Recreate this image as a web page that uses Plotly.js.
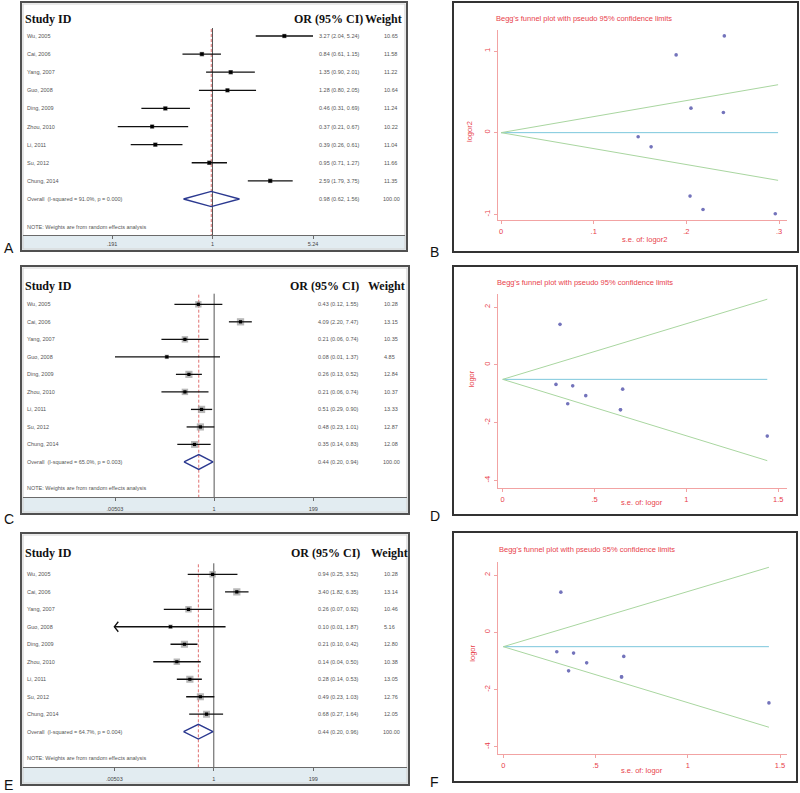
<!DOCTYPE html>
<html><head><meta charset="utf-8">
<script src="https://cdn.plot.ly/plotly-3.0.1.min.js"></script>
<style>html,body{margin:0;padding:0;background:#fff}#chart{width:800px;height:793px}</style>
</head><body><div id="chart"></div>
<script>
// ---------------- DATA ----------------
const studies = ["Wu, 2005","Cai, 2006","Yang, 2007","Guo, 2008","Ding, 2009","Zhou, 2010","Li, 2011","Su, 2012","Chung, 2014"];

// Panel A (forest)
const orA = [3.27, 0.84, 1.35, 1.28, 0.46, 0.37, 0.39, 0.95, 2.59];
const loA = [2.04, 0.61, 0.90, 0.80, 0.31, 0.21, 0.26, 0.71, 1.79];
const hiA = [5.24, 1.15, 2.01, 2.05, 0.69, 0.67, 0.61, 1.27, 3.75];
const wA  = ["10.65","11.58","11.22","10.64","11.24","10.22","11.04","11.66","11.35"];
const overallA = [0.98, 0.62, 1.56];
const hetA = "Overall  (I-squared = 91.0%, p = 0.000)";
const ticksA = [0.191, 1, 5.24];
const tickTextA = [".191", "1", "5.24"];

// Panel C (forest)
const orC = [0.43, 4.09, 0.21, 0.08, 0.26, 0.21, 0.51, 0.48, 0.35];
const loC = [0.12, 2.20, 0.06, 0.00503, 0.13, 0.06, 0.29, 0.23, 0.14];
const hiC = [1.55, 7.47, 0.74, 1.37, 0.52, 0.74, 0.90, 1.01, 0.83];
const wC  = ["10.28","13.15","10.35","4.85","12.84","10.37","13.33","12.87","12.08"];
const overallC = [0.44, 0.20, 0.94];
const hetC = "Overall  (I-squared = 65.0%, p = 0.003)";
const ticksC = [0.00503, 1, 199];
const tickTextC = [".00503", "1", "199"];

// Panel E (forest)
const orE = [0.94, 3.40, 0.26, 0.10, 0.21, 0.14, 0.28, 0.49, 0.68];
const loE = [0.25, 1.82, 0.07, 0.00502, 0.10, 0.04, 0.14, 0.23, 0.27];
const hiE = [3.52, 6.35, 0.92, 1.87, 0.42, 0.50, 0.53, 1.03, 1.64];
const wE  = ["10.28","13.14","10.46","5.16","12.80","10.38","13.05","12.76","12.05"];
const overallE = [0.44, 0.20, 0.96];
const hetE = "Overall  (I-squared = 64.7%, p = 0.004)";
const ticksE = [0.00503, 1, 199];
const tickTextE = [".00503", "1", "199"];

// Panel B (funnel)
const seB    = [0.241, 0.162, 0.205, 0.240, 0.204, 0.296, 0.218, 0.148, 0.189];
const logorB = [1.185, -0.174, 0.300, 0.247, -0.777, -0.994, -0.942, -0.051, 0.952];
const limSeB = [0, 0.299];
const upperB = [0, 0.587];
const lowerB = [0, -0.584];
const centreB = [0, 0];
const xTicksB = [0, 0.1, 0.2, 0.3], xTickTextB = ["0", ".1", ".2", ".3"];
const yTicksB = [-1, 0, 1], yTickTextB = ["-1", "0", "1"];

// Panel D (funnel)
const seD    = [0.653, 0.312, 0.641, 1.440, 0.354, 0.641, 0.290, 0.381, 0.452];
const logorD = [-0.844, 1.40, -1.56, -2.47, -1.35, -1.56, -0.68, -0.73, -1.07];
const limSeD = [0, 1.44];
const upperD = [-0.505, 2.27];
const lowerD = [-0.505, -3.32];
const centreD = [-0.505, -0.505];
const xTicksD = [0, 0.5, 1, 1.5], xTickTextD = ["0", ".5", "1", "1.5"];
const yTicksD = [-4, -2, 0, 2], yTickTextD = ["-4", "-2", "0", "2"];

// Panel F (funnel, as drawn in the figure)
const seF    = [0.653, 0.312, 0.641, 1.440, 0.354, 0.641, 0.290, 0.381, 0.452];
const logorF = [-0.844, 1.40, -1.56, -2.47, -1.35, -1.56, -0.68, -0.73, -1.07];
const limSeF = [0, 1.44];
const upperF = [-0.505, 2.27];
const lowerF = [-0.505, -3.32];
const centreF = [-0.505, -0.505];
const xTicksF = [0, 0.5, 1, 1.5], xTickTextF = ["0", ".5", "1", "1.5"];
const yTicksF = [-4, -2, 0, 2], yTickTextF = ["-4", "-2", "0", "2"];

// ---------------- RENDERING ----------------
const W = 800, H = 793;
const P = px => px / W;
const Q = py => 1 - py / H;
const SANS = 'Liberation Sans, Arial, sans-serif';
const SERIF = 'Liberation Serif, Times New Roman, serif';
const RED = '#e8414c', PINK = '#f2a3a3';
const FS = 5.5;

const traces = [], annotations = [], shapes = [];
const layout = {width: W, height: H, margin: {l:0, r:0, t:0, b:0, pad:0},
  paper_bgcolor: '#ffffff', plot_bgcolor: 'rgba(0,0,0,0)', showlegend: false,
  annotations, shapes};

function logRange(p1, v1, p2, v2, d0, d1) {
  const k = (Math.log10(v2) - Math.log10(v1)) / (p2 - p1);
  return [Math.log10(v1) + (d0 - p1) * k, Math.log10(v1) + (d1 - p1) * k];
}
function linRange(p1, v1, p2, v2, d0, d1) {
  const k = (v2 - v1) / (p2 - p1);
  return [v1 + (d0 - p1) * k, v1 + (d1 - p1) * k];
}
function txt(text, x, y, size, opt) {
  annotations.push(Object.assign({xref:'paper', yref:'paper', x:P(x), y:Q(y), text,
    showarrow:false, xanchor:'left', yanchor:'middle', borderpad:0,
    font:{family:SANS, size, color:'#444'}}, opt || {}));
}
const f2 = v => v.toFixed(2);

function drawForest(n, cfg, d) {
  const xa = 'x' + n, ya = 'y' + n;
  const rowOf = py => (py - cfg.row0) / cfg.dy;
  const yBottom = rowOf(cfg.axisY), yTop = rowOf(cfg.box[1] + 2);
  const t0 = d.ticks[0], t1 = d.ticks[d.ticks.length - 1];
  const decPerPx = (Math.log10(t1) - Math.log10(t0)) / (cfg.tickPx[1] - cfg.tickPx[0]);
  layout['xaxis' + n] = {domain:[P(cfg.dom[0]), P(cfg.dom[1])], type:'log',
    range: logRange(cfg.tickPx[0], t0, cfg.tickPx[1], t1, cfg.dom[0], cfg.dom[1]),
    anchor: ya, showline:true, linecolor:'#6a6a6a', linewidth:1, ticks:'outside', ticklen:3,
    tickcolor:'#6a6a6a', tickwidth:1, tickvals:d.ticks, ticktext:d.tickText,
    tickfont:{family:SANS, size:FS, color:'#444'}, ticklabelstandoff:cfg.standoff,
    showgrid:false, zeroline:false, fixedrange:true};
  layout['yaxis' + n] = {domain:[Q(cfg.axisY), Q(cfg.box[1] + 2)], range:[yBottom, yTop],
    anchor: xa, visible:false, fixedrange:true};

  // strip & frame
  shapes.push({type:'rect', xref:'paper', yref:'paper', x0:P(cfg.box[0]+1), x1:P(cfg.box[2]-1),
    y0:Q(cfg.box[3]-1), y1:Q(cfg.axisY), fillcolor:'#e2ecf1', line:{width:0}, layer:'below'});
  shapes.push({type:'rect', xref:'paper', yref:'paper', x0:P(cfg.box[0]+2), x1:P(cfg.box[2]-2),
    y0:Q(cfg.box[3]-2), y1:Q(cfg.box[1]+2), line:{color:'#d4d4d4', width:1.2}, layer:'below'});
  shapes.push({type:'rect', xref:'paper', yref:'paper', x0:P(cfg.box[0]), x1:P(cfg.box[2]),
    y0:Q(cfg.box[3]), y1:Q(cfg.box[1]), line:{color:'#505050', width:2}, layer:'above'});

  const idx = d.or.map((_, i) => i);
  const nr = d.or.length;
  // reference lines
  traces.push({type:'scatter', mode:'lines', x:[1, 1], y:[rowOf(cfg.vTop), yBottom],
    xaxis:xa, yaxis:ya, line:{color:'#555', width:1}, hoverinfo:'skip'});
  traces.push({type:'scatter', mode:'lines', x:[d.overall[0], d.overall[0]], y:[rowOf(cfg.vTop + 1), yBottom],
    xaxis:xa, yaxis:ya, line:{color:'#e07070', width:1, dash:'3px,2px'}, hoverinfo:'skip'});
  // boxes
  traces.push({type:'scatter', mode:'markers', x:d.or, y:idx, xaxis:xa, yaxis:ya,
    marker:{symbol:'square', size:d.w.map(w => cfg.boxK * Math.sqrt(parseFloat(w))), color:cfg.boxColor, line:{width:0}},
    hoverinfo:'skip'});
  // CI lines (+ open chevron where the CI runs off the scale)
  const cx = [], cy = [];
  idx.forEach(i => {
    cx.push(Math.max(d.lo[i], t0), d.hi[i], null); cy.push(i, i, null);
    if (d.lo[i] < t0) {
      const back = Math.pow(10, 4 * decPerPx);
      const hh = 5 / cfg.dy;
      cx.push(t0 * back, t0, t0 * back, null); cy.push(i - hh, i, i + hh, null);
    }
  });
  traces.push({type:'scatter', mode:'lines', x:cx, y:cy, xaxis:xa, yaxis:ya,
    line:{color:'#111', width:1.3}, hoverinfo:'skip'});
  // points
  traces.push({type:'scatter', mode:'markers', x:d.or, y:idx, xaxis:xa, yaxis:ya,
    marker:{symbol:'square', size:3.2, color:'#000'}, hoverinfo:'skip'});
  // diamond
  const h = 0.42;
  traces.push({type:'scatter', mode:'lines', xaxis:xa, yaxis:ya,
    x:[d.overall[1], d.overall[0], d.overall[2], d.overall[0], d.overall[1]],
    y:[nr, nr - h, nr, nr + h, nr], line:{color:'#2b3990', width:1.4}, hoverinfo:'skip'});
  // row text
  idx.forEach(i => {
    const base = {xref:'paper', yref:ya, y:i, showarrow:false, xanchor:'left', yanchor:'middle', borderpad:0,
      font:{family:SANS, size:FS, color:'#555'}};
    annotations.push(Object.assign({}, base, {x:P(cfg.xs), text:studies[i]}));
    annotations.push(Object.assign({}, base, {x:P(cfg.xor), text:f2(d.or[i]) + ' (' + f2(d.lo[i]) + ', ' + f2(d.hi[i]) + ')'}));
    annotations.push(Object.assign({}, base, {x:P(cfg.xw), text:d.w[i]}));
  });
  const baseO = {xref:'paper', yref:ya, y:nr, showarrow:false, xanchor:'left', yanchor:'middle', borderpad:0,
    font:{family:SANS, size:FS, color:'#555'}};
  annotations.push(Object.assign({}, baseO, {x:P(cfg.xs), text:d.het}));
  annotations.push(Object.assign({}, baseO, {x:P(cfg.xor), text:f2(d.overall[0]) + ' (' + f2(d.overall[1]) + ', ' + f2(d.overall[2]) + ')'}));
  annotations.push(Object.assign({}, baseO, {x:P(cfg.xw - 1.5), text:'100.00'}));
  // headers
  const hf = {family:SERIF, size:12, color:'#111'};
  txt('<b>Study ID</b>', cfg.xs - 2, cfg.headY, 12, {font:hf});
  txt('<b>OR (95% CI)</b>', cfg.xhOR, cfg.headY, 12, {font:hf});
  txt('<b>Weight</b>', cfg.xhW, cfg.headY, 12, {font:hf});
  txt('NOTE: Weights are from random effects analysis', cfg.xs, cfg.noteY, FS, {font:{family:SANS, size:FS, color:'#555'}});
  txt(cfg.letter, cfg.letterPos[0], cfg.letterPos[1], 14, {xanchor:'center', font:{family:SANS, size:14, color:'#111'}});
}

function drawFunnel(n, cfg, d) {
  const xa = 'x' + n, ya = 'y' + n;
  layout['xaxis' + n] = {domain:[P(cfg.dx[0]), P(cfg.dx[1])],
    range: linRange(cfg.xRef[0], cfg.xRef[1], cfg.xRef[2], cfg.xRef[3], cfg.dx[0], cfg.dx[1]),
    anchor: ya, showline:true, linecolor:PINK, linewidth:1, ticks:'outside', ticklen:3, tickcolor:PINK,
    tickvals:d.xt, ticktext:d.xtt, tickfont:{family:SANS, size:7.5, color:RED}, ticklabelstandoff:1,
    showgrid:false, zeroline:false, fixedrange:true};
  layout['yaxis' + n] = {domain:[Q(cfg.dy[1]), Q(cfg.dy[0])],
    range: linRange(cfg.yRef[0], cfg.yRef[1], cfg.yRef[2], cfg.yRef[3], cfg.dy[1], cfg.dy[0]),
    anchor: xa, showline:true, linecolor:PINK, linewidth:1, ticks:'outside', ticklen:3, tickcolor:PINK,
    tickvals:d.yt, ticktext:d.ytt, tickangle:-90, tickfont:{family:SANS, size:7.5, color:RED},
    ticklabelstandoff:1, showgrid:false, zeroline:false, fixedrange:true};
  shapes.push({type:'rect', xref:'paper', yref:'paper', x0:P(cfg.box[0]), x1:P(cfg.box[2]),
    y0:Q(cfg.box[3]), y1:Q(cfg.box[1]), line:{color:'#333', width:2}, layer:'above'});
  traces.push({type:'scatter', mode:'lines', x:d.lim, y:d.centre, xaxis:xa, yaxis:ya,
    line:{color:'#7cc7dc', width:1}, hoverinfo:'skip'});
  traces.push({type:'scatter', mode:'lines', x:d.lim, y:d.upper, xaxis:xa, yaxis:ya,
    line:{color:'#a9d6a0', width:1}, hoverinfo:'skip'});
  traces.push({type:'scatter', mode:'lines', x:d.lim, y:d.lower, xaxis:xa, yaxis:ya,
    line:{color:'#a9d6a0', width:1}, hoverinfo:'skip'});
  traces.push({type:'scatter', mode:'markers', x:d.se, y:d.logor, xaxis:xa, yaxis:ya,
    marker:{symbol:'circle', size:3.6, color:'#7373bb'}, hoverinfo:'skip'});
  const tf = {family:SANS, size:7.5, color:RED};
  txt("Begg's funnel plot with pseudo 95% confidence limits", cfg.title[0], cfg.title[1], 7.5, {font:tf});
  txt(cfg.ytitle, cfg.ytitlePos[0], cfg.ytitlePos[1], 7.5, {xanchor:'center', textangle:-90, font:tf});
  txt(cfg.xtitle, cfg.xtitlePos[0], cfg.xtitlePos[1], 7.5, {xanchor:'center', font:tf});
  txt(cfg.letter, cfg.letterPos[0], cfg.letterPos[1], 14, {xanchor:'center', font:{family:SANS, size:14, color:'#111'}});
}

drawForest('', {box:[21,2,407,251], axisY:235, dom:[23,405], tickPx:[112,313], row0:36, dy:18.11,
  headY:19, noteY:227, vTop:28, xs:26, xor:317.7, xw:383, xhOR:293, xhW:364, standoff:1.5,
  boxK:1.3, boxColor:'#222', letter:'A', letterPos:[9,248]},
  {or:orA, lo:loA, hi:hiA, w:wA, overall:overallA, het:hetA, ticks:ticksA, tickText:tickTextA});

drawForest('3', {box:[21,266,409,514], axisY:497, dom:[23,407], tickPx:[115,313.3], row0:304.3, dy:17.52,
  headY:286.3, noteY:487.7, vTop:293.7, xs:26, xor:316.7, xw:383, xhOR:289, xhW:367, standoff:3,
  boxK:2.0, boxColor:'#9a9a9a', letter:'C', letterPos:[9,519]},
  {or:orC, lo:loC, hi:hiC, w:wC, overall:overallC, het:hetC, ticks:ticksC, tickText:tickTextC});

drawForest('5', {box:[21,533,409,785], axisY:767.3, dom:[23,407], tickPx:[114.3,313.3], row0:574.3, dy:17.49,
  headY:553.3, noteY:758.3, vTop:563.3, xs:26, xor:317.3, xw:383, xhOR:290, xhW:370, standoff:3,
  boxK:2.0, boxColor:'#9a9a9a', letter:'E', letterPos:[8,785]},
  {or:orE, lo:loE, hi:hiE, w:wE, overall:overallE, het:hetE, ticks:ticksE, tickText:tickTextE});

drawFunnel('2', {box:[453,2,798,252], dx:[498,787], dy:[30,220], xRef:[501,0,779,0.3], yRef:[51,1,214.3,-1],
  title:[495,18.3], ytitle:'logor2', ytitlePos:[469,132], xtitle:'s.e. of: logor2', xtitlePos:[644,239],
  letter:'B', letterPos:[435,252]},
  {se:seB, logor:logorB, lim:limSeB, upper:upperB, lower:lowerB, centre:centreB,
   xt:xTicksB, xtt:xTickTextB, yt:yTicksB, ytt:yTickTextB});

drawFunnel('4', {box:[453,266,797,515], dx:[498,786.7], dy:[293.7,488], xRef:[502.7,0,778.3,1.5], yRef:[307,2,480.3,-4],
  title:[496,282], ytitle:'logor', ytitlePos:[471.7,378.7], xtitle:'s.e. of: logor', xtitlePos:[642,502.7],
  letter:'D', letterPos:[435,516]},
  {se:seD, logor:logorD, lim:limSeD, upper:upperD, lower:lowerD, centre:centreD,
   xt:xTicksD, xtt:xTickTextD, yt:yTicksD, ytt:yTickTextD});

drawFunnel('6', {box:[453,532,797,782], dx:[498.3,787], dy:[561.7,754.3], xRef:[503.3,0,780,1.5], yRef:[575,2,746.7,-4],
  title:[498,549], ytitle:'logor', ytitlePos:[471.7,653], xtitle:'s.e. of: logor', xtitlePos:[642,770.7],
  letter:'F', letterPos:[434,782]},
  {se:seF, logor:logorF, lim:limSeF, upper:upperF, lower:lowerF, centre:centreF,
   xt:xTicksF, xtt:xTickTextF, yt:yTicksF, ytt:yTickTextF});

Plotly.newPlot('chart', traces, layout, {staticPlot:true, displayModeBar:false});
</script></body></html>
